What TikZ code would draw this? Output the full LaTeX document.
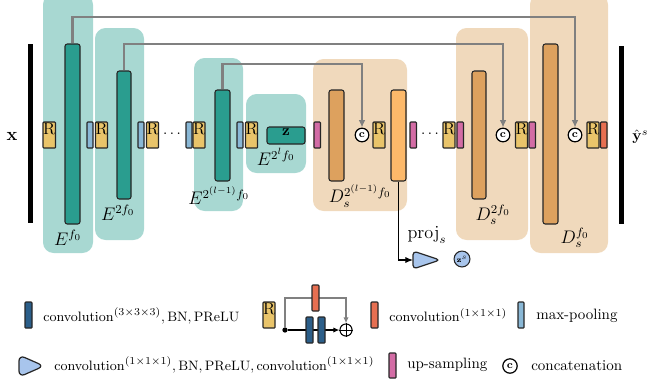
\documentclass[tikz,border=0pt]{standalone}
\usetikzlibrary{fit,arrows.meta,calc}
\definecolor{tealbg}{HTML}{A8D8D2}
\definecolor{tealbar}{HTML}{2A9D8F}
\definecolor{orangebg}{HTML}{F0D9BC}
\definecolor{orangebar}{HTML}{DDA15E}
\definecolor{lightorange}{HTML}{FDB96A}
\definecolor{ryellow}{HTML}{E9C46A}
\definecolor{mpblue}{HTML}{8AB8D6}
\definecolor{uppink}{HTML}{D36CA5}
\definecolor{convred}{HTML}{E76F51}
\definecolor{convblue}{HTML}{2B5E89}
\definecolor{projblue}{HTML}{A8C5EC}
\definecolor{skipgray}{HTML}{808080}
\newcommand\boxnode[7]{\node[#1,fit={(#3,#4) (#5,#6)}] (#2) {#7};}
\tikzset{
  bgT/.style={fill=tealbg, rounded corners=7pt, inner sep=0pt},
  bgO/.style={fill=orangebg, rounded corners=7pt, inner sep=0pt},
  bar/.style={draw=black!85, line width=0.7pt, rounded corners=1.5pt, inner sep=0pt},
  tbar/.style={bar, fill=tealbar},
  obar/.style={bar, fill=orangebar},
  lobar/.style={bar, fill=lightorange},
  rbox/.style={bar, rounded corners=0.5pt, fill=ryellow, font=\fontsize{11}{11}\selectfont},
  mpbox/.style={bar, rounded corners=0.5pt, fill=mpblue},
  upbox/.style={bar, rounded corners=0.5pt, fill=uppink},
  redbox/.style={bar, rounded corners=0.5pt, fill=convred},
  bluebox/.style={bar, rounded corners=0.5pt, fill=convblue},
  blackbar/.style={fill=black, inner sep=0pt},
  cc/.style={circle, draw, line width=0.8pt, fill=white, minimum size=9pt, inner sep=0pt, font=\scriptsize\bfseries},
  skip/.style={draw=skipgray, line width=1.5pt, -{Latex[length=5pt,width=4.5pt]}},
  lskip/.style={draw=skipgray, line width=1pt, -{Latex[length=4pt,width=3.5pt]}},
  tri/.style={draw=black!85, line width=0.8pt, fill=projblue, line join=round, rounded corners=2.5pt},
  lbl/.style={inner sep=1pt, font=\fontsize{11.5}{13}\selectfont},
  legtxt/.style={anchor=west, inner sep=0pt, font=\fontsize{9.5}{12}\selectfont},
}
\begin{document}
\begin{tikzpicture}[x=0.66pt,y=-0.66pt]
\useasboundingbox (0,0) rectangle (649,383);
% backgrounds
\boxnode{bgT}{bgE1}{43}{-6}{93}{253}{}
\boxnode{bgT}{bgE2}{95}{28}{144}{240}{}
\boxnode{bgT}{bgE3}{194}{58}{243}{211}{}
\boxnode{bgT}{bgZ}{246}{94}{306}{173}{}
\boxnode{bgO}{bgD3}{313}{59}{407}{211}{}
\boxnode{bgO}{bgD2}{456}{28}{528}{240}{}
\boxnode{bgO}{bgD1}{530}{-6}{608}{253}{}
% black bars
\boxnode{blackbar}{xbar}{28}{44}{32.5}{223}{}
\boxnode{blackbar}{ybar}{619}{46}{623.5}{224}{}
\node[lbl] (xl) at (12,136) {$\mathbf{x}$};
\node[anchor=west, inner sep=0pt] (yl) at (632,137) {$\hat{\mathbf{y}}^s$};
% concatenation circles
\node[cc] (cA) at (575,135) {c};
\node[cc] (cB) at (503,135) {c};
\node[cc] (cC) at (362,135) {c};
% encoder bars
\boxnode{tbar}{e1}{65}{44}{80}{224}{}
\boxnode{tbar}{e2}{117}{71}{131}{199}{}
\boxnode{tbar}{e3}{215}{90}{230}{181}{}
\boxnode{tbar}{zb}{267}{127}{305}{144}{$\mathbf{z}$}
% skip connections
\coordinate (t1) at (72.5,17);
\coordinate (t2) at (124,44);
\coordinate (t3) at (222.5,64);
\draw[skip] (e1.north) -- (t1) -| (cA.north);
\draw[skip] (e2.north) -- (t2) -| (cB.north);
\draw[skip] (e3.north) -- (t3) -| (cC.north);
% decoder bars
\boxnode{obar}{d3}{329}{90}{344}{181}{}
\boxnode{lobar}{pb}{391}{90}{406}{181}{}
\boxnode{obar}{d2}{472}{71}{486}{199}{}
\boxnode{obar}{d1}{543}{44}{558}{224}{}
% R blocks
\boxnode{rbox}{r1}{43}{122}{55.5}{148}{R}
\boxnode{rbox}{r2}{95.5}{122}{107.5}{148}{R}
\boxnode{rbox}{r3}{146.5}{122}{158.5}{148}{R}
\boxnode{rbox}{r4}{193}{122}{205}{148}{R}
\boxnode{rbox}{r5}{245.5}{122}{257.5}{148}{R}
\boxnode{rbox}{r6}{373}{122}{385}{148}{R}
\boxnode{rbox}{r7}{443}{122}{455}{148}{R}
\boxnode{rbox}{r8}{515.5}{122}{527.5}{148}{R}
\boxnode{rbox}{r9}{587}{122}{599}{148}{R}
% max-pooling
\boxnode{mpbox}{m1}{87}{122}{93}{148}{}
\boxnode{mpbox}{m2}{138}{122}{144}{148}{}
\boxnode{mpbox}{m3}{186}{122}{192}{148}{}
\boxnode{mpbox}{m4}{237}{122}{243}{148}{}
% up-sampling
\boxnode{upbox}{u1}{314}{122}{320.5}{148}{}
\boxnode{upbox}{u2}{410}{122}{416.5}{148}{}
\boxnode{upbox}{u3}{457}{122}{463.5}{148}{}
\boxnode{upbox}{u4}{529}{122}{535.5}{148}{}
\boxnode{redbox}{fin}{600.5}{122}{607}{148}{}
% dots
\node (dA) at (172,134) {$\cdots$};
\node (dB) at (430,134) {$\cdots$};
% labels
\node[lbl] (lE1) at (68,238) {$E^{f_0}$};
\node[lbl] (lE2) at (118,213) {$E^{2f_0}$};
\node[lbl] (lE3) at (219,196) {$E^{2^{(l-1)}f_0}$};
\node[lbl] (lEz) at (276,157) {$E^{2^{l}f_0}$};
\node[lbl] (lD3) at (360,196) {$D_s^{2^{(l-1)}f_0}$};
\node[lbl] (lD2) at (493,215) {$D_s^{2f_0}$};
\node[lbl] (lD1) at (575,238) {$D_s^{f_0}$};
% projection
\draw[tri] (413,251) -- (440,260) -- (413,269) -- cycle;
\coordinate (triW) at (413,260);
\draw[line width=0.7pt, -{Latex[length=5pt,width=4pt]}] (pb.south) |- (triW);
\node[lbl] (projl) at (427,235) {$\mathrm{proj}_s$};
\node[circle, draw=black!85, line width=0.7pt, fill=projblue, minimum size=10.5pt, inner sep=0pt, font=\tiny] (zs) at (462,259) {$\mathbf{z}^s$};
% legend row 1
\boxnode{bluebox}{lg1}{25}{302}{32}{328}{}
\node[legtxt] (lt1) at (43,316) {$\mathrm{convolution}^{(3\times3\times3)},\mathrm{BN},\mathrm{PReLU}$};
\boxnode{rbox}{lgR}{263}{302}{275}{328}{R}
\node[circle, fill, inner sep=0pt, minimum size=3.5pt] (dot) at (285,330) {};
\node[circle, draw, line width=0.7pt, minimum size=8pt, inner sep=0pt] (plus) at (346,330) {};
\draw[line width=0.6pt] (plus.north) -- (plus.south) (plus.west) -- (plus.east);
\coordinate (rtop) at (285,298);
\draw[lskip] (dot) -- (rtop) -| (plus.north);
\draw[line width=0.9pt, -{Latex[length=4pt,width=3.5pt]}] (dot) -- (plus.west);
\boxnode{redbox}{lgRr}{312}{285}{319}{311}{}
\boxnode{bluebox}{lgRb1}{306}{317}{313}{343}{}
\boxnode{bluebox}{lgRb2}{318}{317}{325}{343}{}
\boxnode{redbox}{lg2}{371}{302}{378}{328}{}
\node[legtxt] (lt2) at (389,315) {$\mathrm{convolution}^{(1\times1\times1)}$};
\boxnode{mpbox}{lg3}{518}{302}{524}{328}{}
\node[legtxt, font=\fontsize{9.9}{12}\selectfont] (lt3) at (536,316) {max-pooling};
% legend row 2
\draw[tri, rounded corners=4pt] (19,355) -- (44,366) -- (19,377) -- cycle;
\node[legtxt] (lt4) at (54,365) {$\mathrm{convolution}^{(1\times1\times1)},\mathrm{BN},\mathrm{PReLU},\mathrm{convolution}^{(1\times1\times1)}$};
\boxnode{upbox}{lg5}{389}{353}{396}{378}{}
\node[legtxt, font=\fontsize{9.9}{12}\selectfont] (lt5) at (407,365) {up-sampling};
\node[cc, minimum size=9.5pt] (lg6) at (510,366) {c};
\node[legtxt, font=\fontsize{9.9}{12}\selectfont] (lt6) at (531,366) {concatenation};
\end{tikzpicture}
\end{document}
